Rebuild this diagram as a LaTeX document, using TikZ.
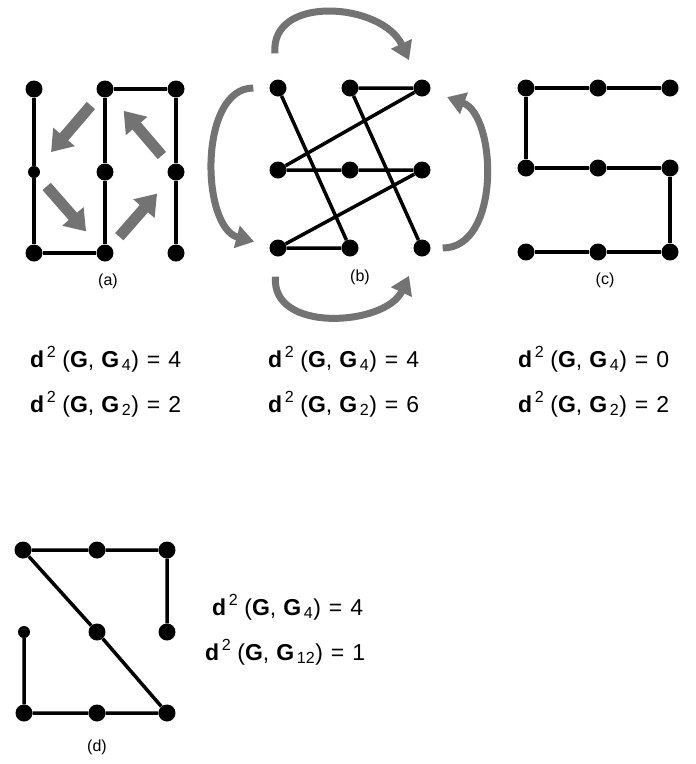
\documentclass[tikz,border=0pt]{standalone}
\usepackage{fontspec}
\setmainfont{Liberation Sans}
\usetikzlibrary{arrows.meta}
\newcommand\dsq[2]{\textbf{d}\textsuperscript{\,2}\hspace{6pt}(\textbf{G},\hspace{7pt}\textbf{G}\textsubscript{\,#1})\hspace{8pt}=\hspace{8pt}#2}

\begin{document}
\begin{tikzpicture}[x=1pt,y=1pt,
                    dot/.style={circle, fill=black, inner sep=0pt, minimum size=17pt},
                    sdot/.style={dot, minimum size=12pt},
                    edge/.style={line width=3.5pt},
                    blockarrow/.style={line width=11pt, draw=black!55, shorten <=13pt, shorten >=20pt,
                                       -{Triangle[length=20pt,width=27pt]}},
                    curvearrow/.style={line width=7pt, draw=black!55,
                                       -{Triangle[length=18pt,width=22pt]}},
                    lab/.style={font=\fontsize{16}{18}\selectfont},
                    eq/.style={anchor=base west, inner sep=0pt, font=\fontsize{23}{27}\selectfont}]
\useasboundingbox (0,0) rectangle (696,-764);
\node[dot] (a1) at (34,-89) {};
\node[dot] (a2) at (105,-89) {};
\node[dot] (a3) at (176,-89) {};
\node[sdot] (a4) at (34,-172) {};
\node[dot] (a5) at (105,-172) {};
\node[dot] (a6) at (176,-172) {};
\node[dot] (a7) at (34,-253) {};
\node[dot] (a8) at (105,-253) {};
\node[dot] (a9) at (176,-253) {};
\draw[edge] (a1) -- (a4) -- (a7) -- (a8) -- (a5) -- (a2) -- (a3) -- (a6) -- (a9);
\draw[blockarrow] (a2) -- (a4);
\draw[blockarrow] (a4) -- (a8);
\draw[blockarrow] (a8) -- (a6);
\draw[blockarrow] (a6) -- (a2);
\node[lab] (la) at (108,-281) {(a)};
\node[dot] (b1) at (278,-88) {};
\node[dot] (b2) at (350,-88) {};
\node[dot] (b3) at (422,-88) {};
\node[dot] (b4) at (278,-170) {};
\node[dot] (b5) at (350,-170) {};
\node[dot] (b6) at (422,-170) {};
\node[dot] (b7) at (278,-248) {};
\node[dot] (b8) at (350,-248) {};
\node[dot] (b9) at (422,-248) {};
\draw[edge] (b1) -- (b8) -- (b7) -- (b6) -- (b5) -- (b4) -- (b3) -- (b2) -- (b9);
\draw[curvearrow, shorten <=26pt, shorten >=22pt] (b1) to[out=95,in=115,looseness=1.55] (b3);
\draw[curvearrow, shorten <=16pt, shorten >=16pt] (b1) to[out=180,in=165,looseness=1.15] (b7);
\draw[curvearrow, shorten <=20pt, shorten >=22pt] (b7) to[out=-95,in=-115,looseness=1.4] (b9);
\draw[curvearrow, shorten <=12pt, shorten >=18pt] (b9) to[out=0,in=-20,looseness=1.15] (b3);
\node[lab] (lb) at (360,-277) {(b)};
\node[dot] (c1) at (526,-88) {};
\node[dot] (c2) at (598,-88) {};
\node[dot] (c3) at (670,-88) {};
\node[dot] (c4) at (526,-168) {};
\node[dot] (c5) at (598,-168) {};
\node[dot] (c6) at (670,-168) {};
\node[dot] (c7) at (526,-252) {};
\node[dot] (c8) at (598,-252) {};
\node[dot] (c9) at (670,-252) {};
\draw[edge] (c3) -- (c2) -- (c1) -- (c4) -- (c5) -- (c6) -- (c9) -- (c8) -- (c7);
\node[lab] (lc) at (605,-280) {(c)};
\node[eq] (ea1) at (30,-367) {\dsq{4}{4}};
\node[eq] (ea2) at (30,-412) {\dsq{2}{2}};
\node[eq] (eb1) at (268,-367) {\dsq{4}{4}};
\node[eq] (eb2) at (268,-412) {\dsq{2}{6}};
\node[eq] (ec1) at (518,-367) {\dsq{4}{0}};
\node[eq] (ec2) at (518,-412) {\dsq{2}{2}};
\node[dot] (d1) at (23,-550) {};
\node[dot] (d2) at (97,-550) {};
\node[dot] (d3) at (167,-550) {};
\node[sdot] (d4) at (24,-632) {};
\node[dot] (d5) at (97,-632) {};
\node[dot] (d6) at (167,-632) {};
\node[dot] (d7) at (24,-713) {};
\node[dot] (d8) at (97,-713) {};
\node[dot] (d9) at (167,-713) {};
\draw[edge] (d6) -- (d3) -- (d2) -- (d1) -- (d5) -- (d9) -- (d8) -- (d7) -- (d4);
\node[lab] (ld) at (97,-747) {(d)};
\node[eq] (ed1) at (212,-615) {\dsq{4}{4}};
\node[eq] (ed2) at (205,-660) {\dsq{12}{1}};
\end{tikzpicture}
\end{document}
